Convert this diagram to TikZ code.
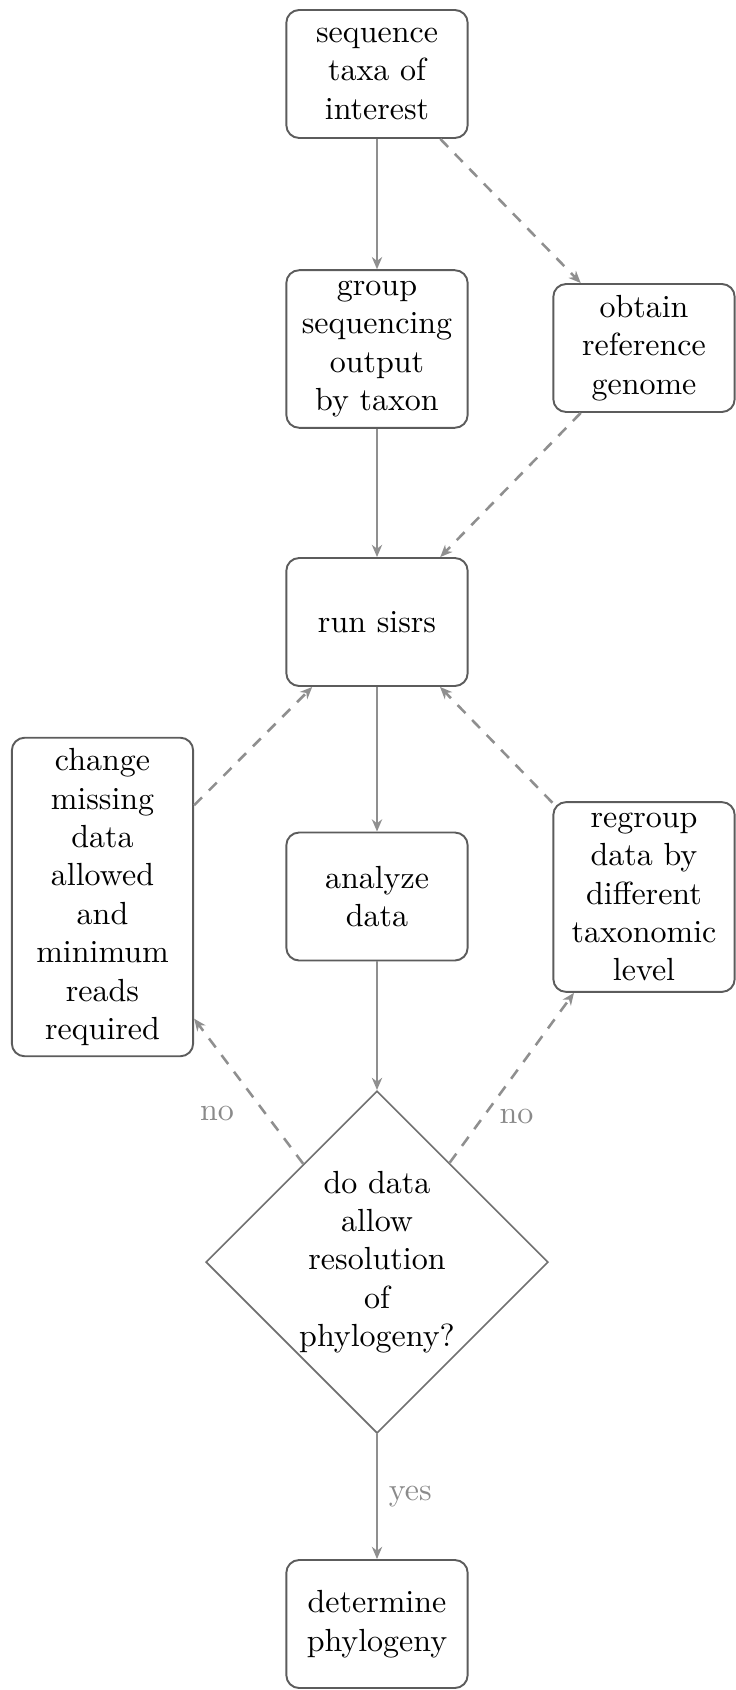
\documentclass[tikz,border=0pt]{standalone}
\usetikzlibrary{shapes.geometric,arrows.meta}
\definecolor{linegray}{HTML}{8F8F8F}
\definecolor{boxgray}{HTML}{5C5C5C}
\definecolor{diagray}{HTML}{707070}
\definecolor{lblgray}{HTML}{8A8A8A}
\begin{document}
\begin{tikzpicture}[x=0.3125pt,y=-0.3125pt,
  block/.style={rectangle, draw=boxgray, line width=0.6pt, text width=5em, align=center, rounded corners=4pt, minimum height=4em},
  decision/.style={diamond, draw=diagray, line width=0.5pt, text width=50pt, align=center, inner sep=0pt, minimum width=106pt, minimum height=106pt},
  conn/.style={draw=linegray, line width=0.8pt, -{Stealth[length=3.8pt,width=3.2pt,inset=1.2pt]}},
  dconn/.style={conn, dash pattern=on 3.5pt off 3pt},
  lbl/.style={text=lblgray, inner sep=3.33pt}]
\useasboundingbox (0,0) rectangle (735,1690);
\node[block] (seq) at (377,74) {sequence\\taxa of\\interest};
\node[block] (grp) at (377,349) {group\\sequencing\\output\\by taxon};
\node[block] (ref) at (644,348) {obtain\\reference\\genome};
\node[block] (run) at (377,622) {run sisrs};
\node[block] (chg) at (102.5,897) {change\\missing\\data\\allowed\\and\\minimum\\reads\\required};
\node[block] (ana) at (377,896.5) {analyze\\data};
\node[block] (rgp) at (644,897) {regroup\\data by\\different\\taxonomic\\level};
\node[decision] (dec) at (377,1262) {do data\\allow\\resolution\\of\\phylogeny?};
\node[block] (det) at (377,1624) {determine\\phylogeny};
\draw[conn] (seq) -- (grp);
\draw[conn] (grp) -- (run);
\draw[conn] (run) -- (ana);
\draw[conn] (ana) -- (dec);
\draw[conn] (dec) -- node[lbl, midway, right=0pt] (yes) {yes} (det);
\draw[dconn] (seq) -- (ref);
\draw[dconn] (ref) -- (run);
\draw[dconn] (chg) -- (run);
\draw[dconn] (rgp) -- (run);
\draw[dconn] (dec) -- node[lbl, pos=0.35, left=6pt] (noL) {no} (chg);
\draw[dconn] (dec) -- node[lbl, pos=0.27, right=1.4pt] (noR) {no} (rgp);
\end{tikzpicture}
\end{document}
